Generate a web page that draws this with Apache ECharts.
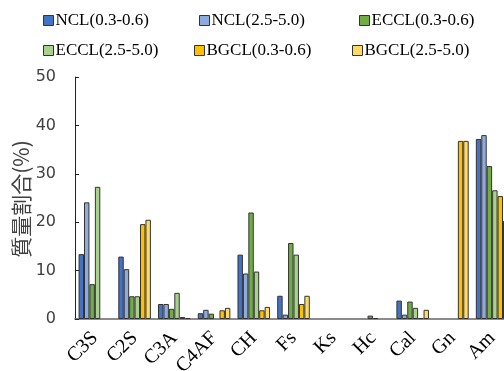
<!DOCTYPE html>
<html><head><meta charset="utf-8">
<script src="https://cdn.jsdelivr.net/npm/echarts@6/dist/echarts.min.js"></script>
<style>html,body{margin:0;padding:0;background:#fff}#c{width:504px;height:371px}</style>
</head><body><div id="c"></div>
<script>
const categories = ['C3S','C2S','C3A','C4AF','CH','Fs','Ks','Hc','Cal','Gn','Am'];
const seriesNames = ['NCL(0.3-0.6)','NCL(2.5-5.0)','ECCL(0.3-0.6)','ECCL(2.5-5.0)','BGCL(0.3-0.6)','BGCL(2.5-5.0)'];
const ncl03  = [13.4, 12.9, 3.1, 1.2, 13.3, 4.8, 0, 0, 3.8, 0, 37.2];
const ncl25  = [24.1, 10.3, 3.1, 1.9, 9.4, 0.9, 0, 0, 0.9, 0, 38.0];
const eccl03 = [7.2, 4.7, 2.1, 1.1, 22.0, 15.7, 0, 0.7, 3.6, 0, 31.6];
const eccl25 = [27.3, 4.7, 5.4, 0, 9.8, 13.3, 0, 0.2, 2.3, 0, 26.6];
const bgcl03 = [0, 19.6, 0.4, 1.8, 1.8, 3.1, 0, 0, 0.2, 36.8, 25.4];
const bgcl25 = [0, 20.5, 0.2, 2.3, 2.5, 4.8, 0, 0, 1.9, 36.8, 20.3];
const yTicks = [0, 10, 20, 30, 40, 50];

const values = [ncl03, ncl25, eccl03, eccl25, bgcl03, bgcl25];
const colors = ['#4472C4','#8FAADC','#70AD47','#A9D18E','#FFC000','#FFD966'];
const legendPos = [[43,12],[199,12],[359,12],[43,42],[194,42],[352,42]];

const chart = echarts.init(document.getElementById('c'));
chart.setOption({
  animation: false,
  color: colors,
  legend: seriesNames.map((n, i) => ({
    data: [n], left: legendPos[i][0], top: legendPos[i][1], padding: 0,
    itemWidth: 10, itemHeight: 10, icon: 'rect',
    itemStyle: {borderColor: '#333', borderWidth: 1},
    textStyle: {fontFamily: 'Liberation Serif', fontSize: 17, color: '#000', padding: [0,0,0,-3]}
  })),
  grid: {left: 75, top: 77, width: 437, height: 242, containLabel: false, outerBoundsMode: 'none'},
  xAxis: {
    type: 'category', data: categories,
    axisLine: {lineStyle: {color: '#666', width: 1.5}},
    axisTick: {show: false},
    axisLabel: {rotate: 45, interval: 0, margin: 16, fontFamily: 'Liberation Serif', fontSize: 20, color: '#000'}
  },
  yAxis: {
    type: 'value', min: yTicks[0], max: yTicks[yTicks.length-1], interval: 10,
    splitLine: {show: false},
    axisLine: {show: true, lineStyle: {color: '#222'}},
    axisTick: {show: true, inside: true, length: 4, lineStyle: {color: '#222'}},
    axisLabel: {margin: 19, fontFamily: 'DejaVu Sans', fontSize: 16, color: '#404040'}
  },
  graphic: [{
    type: 'text', x: 21, y: 199, rotation: Math.PI/2,
    style: {text: '質量割合(%)', font: '21px "Noto Sans CJK JP"', fill: '#404040', textAlign: 'center', textVerticalAlign: 'middle'}
  }],
  series: values.map((v, i) => ({
    name: seriesNames[i], type: 'bar', data: v.map(x => x === 0 ? null : x),
    barGap: '0%', barCategoryGap: '18%',
    itemStyle: {borderColor: '#333', borderWidth: 1}
  }))
});
</script></body></html>
